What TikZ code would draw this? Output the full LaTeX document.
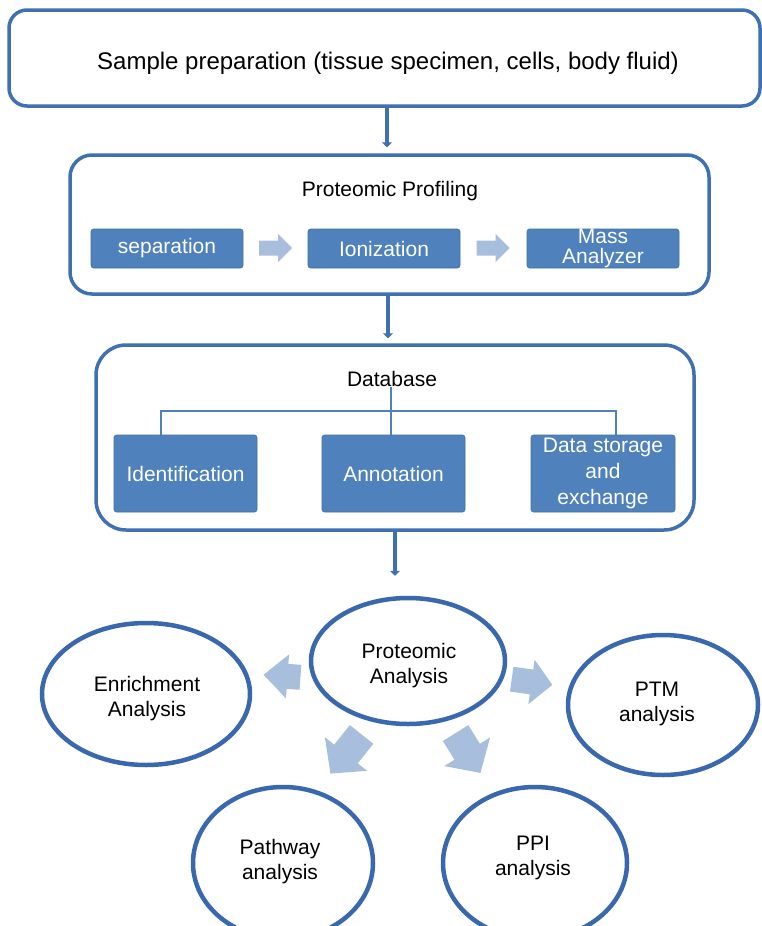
\documentclass[tikz,border=0pt]{standalone}
\usepackage{fontspec}
\setmainfont{Liberation Sans}
\usetikzlibrary{arrows.meta,shapes.geometric}

\definecolor{frameblue}{HTML}{3E70B2}
\definecolor{boxblue}{HTML}{4F81BD}
\definecolor{boxedge}{HTML}{41719C}
\definecolor{ringblue}{HTML}{3A68AE}
\definecolor{paleblue}{HTML}{A8BEDD}

\tikzset{
  frame/.style={draw=frameblue, line width=3.5pt, fill=white},
  stagebox/.style={draw=boxedge, line width=0.6pt, fill=boxblue, rounded corners=2.5pt,
    text=white, font=\fontsize{21}{25}\selectfont, align=center, inner sep=0pt},
  heading/.style={font=\fontsize{21}{25}\selectfont, text=black, inner sep=0pt},
  ring/.style={ellipse, draw=ringblue, line width=4.5pt, fill=white, inner sep=0pt},
  ringtext/.style={font=\fontsize{21}{25}\selectfont, align=center, inner sep=0pt},
  conn/.style={draw=frameblue, line width=4pt, -{Triangle[length=5pt,width=10pt]}},
  tree/.style={draw=boxblue, line width=1.8pt},
  pics/fatarrow/.style n args={4}{code={%
    % #1 length, #2 shaft width, #3 head width, #4 head length
    \fill[paleblue] ({-#1/2},{-#2/2}) -- ({#1/2-#4},{-#2/2}) -- ({#1/2-#4},{-#3/2})
      -- ({#1/2},0) -- ({#1/2-#4},{#3/2}) -- ({#1/2-#4},{#2/2}) -- ({-#1/2},{#2/2}) -- cycle;
  }},
}

\begin{document}
\begin{tikzpicture}[x=1pt,y=-1pt]
  \useasboundingbox (0,0) rectangle (762,926);
  \clip (0,0) rectangle (762,926);

  % sample preparation
  \node[frame, rounded corners=18pt, minimum width=751, minimum height=96] (s) at (384.5,58) {};
  \node[font=\fontsize{24}{28}\selectfont, inner sep=0pt] (st) at (388,63)
        {Sample preparation (tissue specimen, cells, body fluid)};

  % proteomic profiling
  \node[frame, rounded corners=22pt, minimum width=639, minimum height=139] (pp) at (389.5,224.5) {};
  \node[heading] (ppt) at (390,191) {Proteomic Profiling};
  \node[stagebox, minimum width=152, minimum height=39] (sep) at (167,248.5) {separation};
  \node[stagebox, minimum width=152, minimum height=39] (ion) at (384,248.5) {Ionization};
  \node[stagebox, minimum width=152, minimum height=39,
        font=\fontsize{21}{20}\selectfont] (mass) at (603,248.5) {Mass\\Analyzer};
  \pic at (275.5,248) {fatarrow={33}{15}{28}{14}};
  \pic at (493,248) {fatarrow={33}{15}{28}{14}};

  % database
  \node[frame, rounded corners=30pt, minimum width=598, minimum height=185] (db) at (395,437.5) {};
  \node[heading] (dbt) at (392,379) {Database};
  \node[stagebox, minimum width=143, minimum height=77] (idf) at (185.5,473.5) {Identification};
  \node[stagebox, minimum width=143, minimum height=77] (ann) at (393.5,473.5) {Annotation};
  \node[stagebox, minimum width=144, minimum height=77,
        font=\fontsize{21}{26}\selectfont] (dse) at (603,473.5) {Data storage\\and\\exchange};
  \coordinate (bus) at (391,411);
  \draw[tree] (dbt.south -| bus) -- (ann.north -| bus);
  \draw[tree] (idf.north -| 161,0) -- (161,411) -- (616,411) -- (dse.north -| 616,0);

  % vertical flow
  \coordinate (ax1) at (387,0);
  \coordinate (ax2) at (388,0);
  \coordinate (ax3) at (395,0);
  \draw[conn, shorten >=6pt] (s.south -| ax1) -- (pp.north -| ax1);
  \draw[conn, shorten >=5pt] (pp.south -| ax2) -- (db.north -| ax2);

  % analyses
  \node[ring, minimum width=194, minimum height=126] (pa) at (408,661) {};
  \node[ring, minimum width=208, minimum height=142] (en) at (146,694) {};
  \node[ring, minimum width=190, minimum height=140] (ptm) at (663,705) {};
  \node[ring, minimum width=180, minimum height=152] (pw) at (283,863) {};
  \node[ring, minimum width=184, minimum height=152] (ppi) at (535,863) {};
  \node[ringtext] (pat)  at (409,666)   {Proteomic\\Analysis};
  \node[ringtext] (ent)  at (147,699)   {Enrichment\\Analysis};
  \node[ringtext] (ptmt) at (657,704)   {PTM\\analysis};
  \node[ringtext] (pwt)  at (280,862)   {Pathway\\analysis};
  \node[ringtext] (ppit) at (533,857.5) {PPI\\analysis};
  \draw[conn, shorten >=20pt] (db.south -| ax3) -- (pa.north -| ax3);

  \pic[rotate=176] at (282,676) {fatarrow={37}{25}{44}{24}};
  \pic[rotate=-8] at (532,682) {fatarrow={41}{25}{45}{21}};
  \pic[rotate=231.5] at (346,754) {fatarrow={50}{30}{54}{25}};
  \pic[rotate=-58] at (468,753) {fatarrow={47}{30}{54}{25}};
\end{tikzpicture}
\end{document}
